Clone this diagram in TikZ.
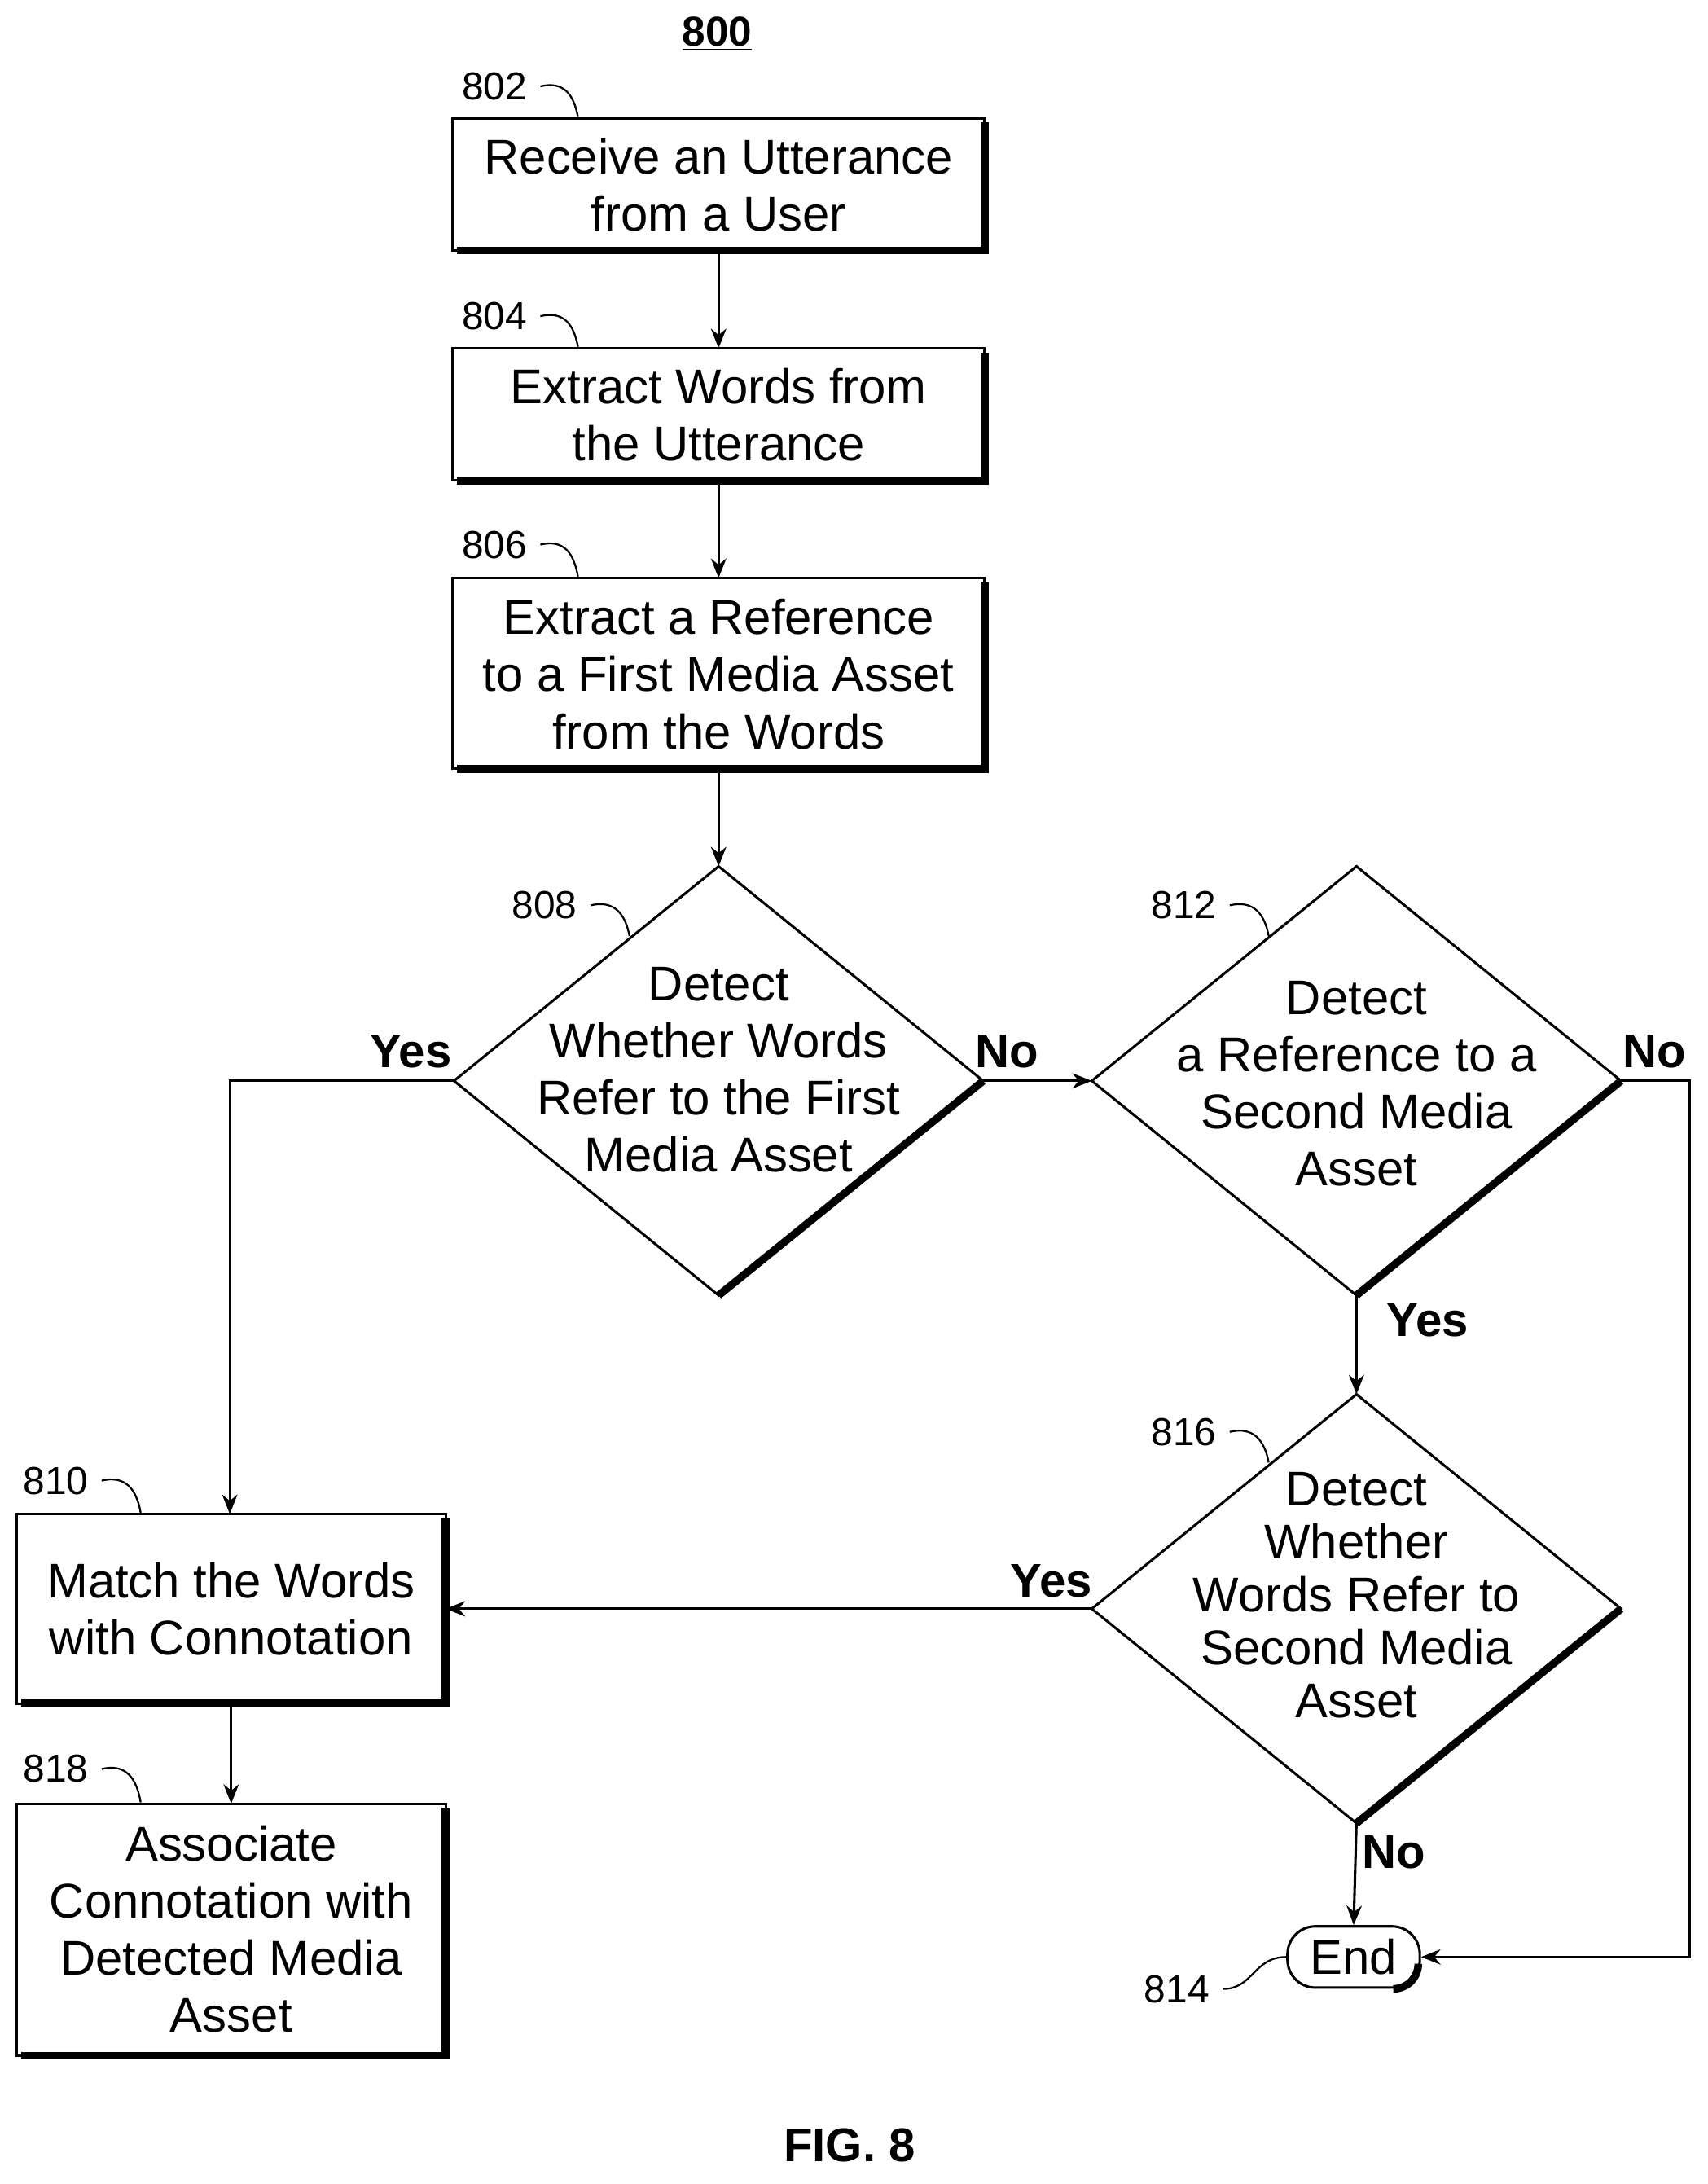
\documentclass[tikz,border=0pt]{standalone}
\usepackage{fontspec}
\setmainfont{Liberation Sans}
\usetikzlibrary{arrows.meta}
\begin{document}
\begin{tikzpicture}[x=1pt,y=-1pt,
  txt/.style={align=center,font=\fontsize{35}{41}\selectfont},
  lab/.style={font=\fontsize{28}{32}\selectfont},
  yn/.style={font=\bfseries\fontsize{34}{38}\selectfont},
  ln/.style={line width=1.8pt},
  sh/.style={line width=5.5pt},
  arr/.style={ln,-{Stealth[length=14pt,width=11pt]}},
  sq/.style={line width=1.3pt}]
\useasboundingbox (0,0) rectangle (1226,1568);
\newcommand{\mybox}[5]{% name x1 y1 x2 y2
  \draw[ln] (#2,#3) rectangle (#4,#5);
  \draw[sh] (#4,#3+3) -- (#4,#5) -- (#2+3,#5);
  \coordinate (#1n) at ({(#2+#4)/2},#3);
  \coordinate (#1s) at ({(#2+#4)/2},#5);
  \coordinate (#1e) at (#4,{(#3+#5)/2});
  \coordinate (#1w) at (#2,{(#3+#5)/2});}
\newcommand{\mydia}[5]{% name cx cy halfw halfh
  \draw[ln] (#2,#3-#5) -- (#2+#4,#3) -- (#2,#3+#5) -- (#2-#4,#3) -- cycle;
  \draw[sh] (#2+#4,#3) -- (#2,#3+#5);
  \coordinate (#1n) at (#2,#3-#5);
  \coordinate (#1s) at (#2,#3+#5);
  \coordinate (#1e) at (#2+#4,#3);
  \coordinate (#1w) at (#2-#4,#3);}
\node[font=\bfseries\fontsize{30}{34}\selectfont] (t800) at (515,24) {\underline{800}};
\mybox{b802}{325}{85}{707}{180}
\node[txt] (t802) at (516,133) {Receive an Utterance\\from a User};
\mybox{b804}{325}{250}{707}{345}
\node[txt] (t804) at (516,298) {Extract Words from\\the Utterance};
\mybox{b806}{325}{415}{707}{552}
\node[txt] (t806) at (516,484) {Extract a Reference\\to a First Media Asset\\from the Words};
\mydia{d808}{516}{776}{190}{154}
\node[txt] (t808) at (516,768) {Detect\\Whether Words\\Refer to the First\\Media Asset};
\mydia{d812}{974}{776}{190}{154}
\node[txt] (t812) at (974,778) {Detect\\a Reference to a\\Second Media\\Asset};
\mydia{d816}{974}{1155}{190}{154}
\node[txt,font=\fontsize{35}{38}\selectfont] (t816) at (974,1145) {Detect\\Whether\\Words Refer to\\Second Media\\Asset};
\mybox{b810}{12}{1087}{320}{1223}
\node[txt] (t810) at (166,1155) {Match the Words\\with Connotation};
\mybox{b818}{12}{1295}{320}{1476}
\node[txt] (t818) at (166,1385) {Associate\\Connotation with\\Detected Media\\Asset};
\node[txt,draw,ln,rounded corners=20pt,minimum width=95pt,minimum height=44pt,inner sep=2pt] (end) at (972,1405) {End};
\draw[sh] ([xshift=-6pt]end.south east) ++(-14,0) arc (-90:0:18pt);
% labels
\node[lab] (l802) at (355,62) {802};
\draw[sq] (388,62) .. controls (405,58) and (412,68) .. (415,84);
\node[lab] (l804) at (355,227) {804};
\draw[sq] (388,227) .. controls (405,223) and (412,233) .. (415,249);
\node[lab] (l806) at (355,391) {806};
\draw[sq] (388,391) .. controls (405,387) and (412,397) .. (415,414);
\node[lab] (l808) at (391,650) {808};
\draw[sq] (424,650) .. controls (441,646) and (449,656) .. (452,672);
\node[lab] (l812) at (850,650) {812};
\draw[sq] (883,650) .. controls (900,646) and (908,656) .. (911,672);
\node[lab] (l816) at (850,1028) {816};
\draw[sq] (883,1028) .. controls (900,1024) and (908,1034) .. (911,1050);
\node[lab] (l810) at (40,1063) {810};
\draw[sq] (73,1063) .. controls (90,1059) and (98,1069) .. (101,1086);
\node[lab] (l818) at (40,1270) {818};
\draw[sq] (73,1270) .. controls (90,1266) and (98,1276) .. (101,1294);
\node[lab] (l814) at (845,1428) {814};
\draw[sq] (878,1428) .. controls (900,1428) and (900,1405) .. (end.west);
% connectors
\draw[arr] (b802s) -- (b804n);
\draw[arr] (b804s) -- (b806n);
\draw[arr] (b806s) -- (d808n);
\draw[arr] (d808w) -- (165,776) -- (165,1087);
\draw[arr] (d808e) -- (d812w);
\draw[arr] (d812s) -- (d816n);
\draw[arr] (d812e) -- (1213,776) -- (1213,1405) -- (end.east);
\draw[arr] (d816w) -- (b810e);
\draw[arr] (d816s) -- (end.north);
\draw[arr] (b810s) -- (b818n);
\node[yn] (y1) at (295,755) {Yes};
\node[yn] (n1) at (723,755) {No};
\node[yn] (n2) at (1188,755) {No};
\node[yn] (y2) at (1025,948) {Yes};
\node[yn] (y3) at (755,1135) {Yes};
\node[yn] (n3) at (1001,1330) {No};
\node[font=\bfseries\fontsize{34}{38}\selectfont] (fig) at (610,1540) {FIG. 8};
\end{tikzpicture}
\end{document}
